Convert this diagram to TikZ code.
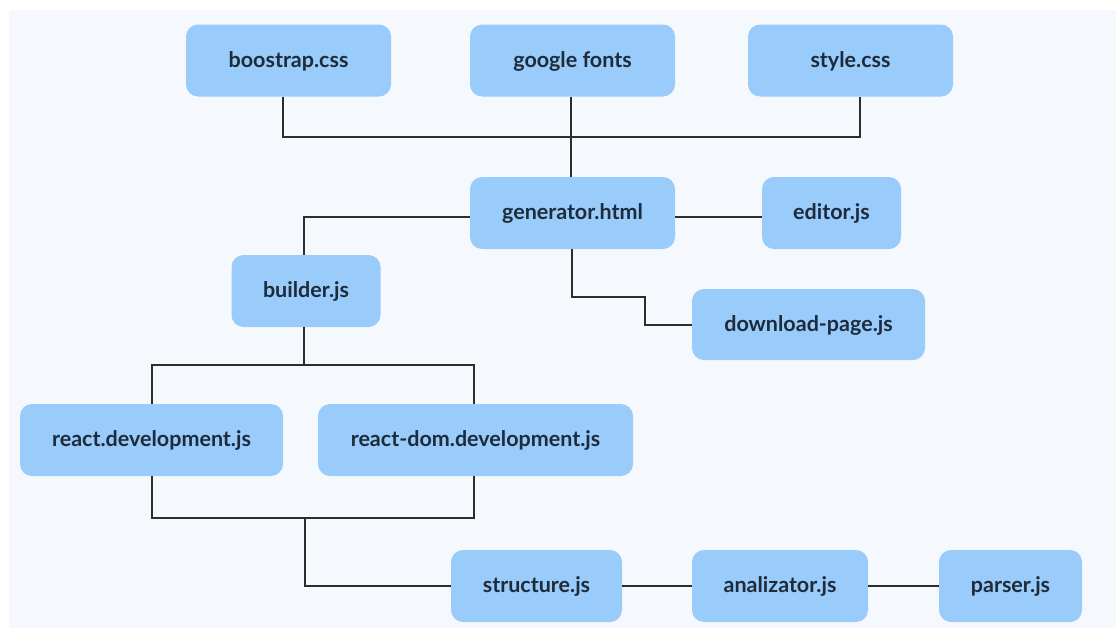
\documentclass[tikz,border=0pt]{standalone}
\usepackage{fontspec}
\setmainfont{Lato}
\definecolor{boxfill}{RGB}{153,204,250}
\definecolor{panel}{RGB}{245,249,253}
\definecolor{txt}{RGB}{30,43,58}
\definecolor{wire}{RGB}{45,45,45}
\begin{document}
\begin{tikzpicture}[x=1pt,y=1pt,
  filebox/.style={draw=none,fill=boxfill,rounded corners=12pt,inner sep=0pt,
    font=\fontsize{21.5}{24}\selectfont\bfseries,text=txt,minimum height=72pt,
    text height=15pt,text depth=2pt},
  wire/.style={draw=wire,line width=2pt}]
\useasboundingbox (0,0) rectangle (1116,-637);
\fill[white] (0,0) rectangle (1116,-637);
\fill[panel] (9,-10) rectangle (1116,-628);
% nodes
\node[filebox,minimum width=205pt] (boot) at (288.5,-60.5) {boostrap.css};
\node[filebox,minimum width=205pt] (gf) at (572.5,-60.5) {google fonts};
\node[filebox,minimum width=205pt] (style) at (850.5,-60.5) {style.css};
\node[filebox,minimum width=205pt] (gen) at (572.5,-213) {generator.html};
\node[filebox,minimum width=139pt] (editor) at (831.5,-213) {editor.js};
\node[filebox,minimum width=149pt] (builder) at (306,-291) {builder.js};
\node[filebox,minimum width=233pt,minimum height=71pt] (dl) at (808.5,-324.5) {download-page.js};
\node[filebox,minimum width=263pt] (react) at (151.5,-440) {react.development.js};
\node[filebox,minimum width=315pt] (rdom) at (475.5,-440) {react-dom.development.js};
\node[filebox,minimum width=171pt] (struct) at (536.5,-586) {structure.js};
\node[filebox,minimum width=176pt] (anal) at (780,-586) {analizator.js};
\node[filebox,minimum width=143pt] (parser) at (1010.5,-586) {parser.js};
% junctions
\coordinate (j1) at (571,-137);
\coordinate (k1) at (645,-297);
\coordinate (k2) at (304,-365);
\coordinate (k3) at (305,-518);
% connectors
\draw[wire] ([xshift=-5.5]boot.south) |- (j1) -| ([xshift=9.5]style.south);
\draw[wire] ([xshift=-1.5]gf.south) -- ([xshift=-1.5]gen.north);
\draw[wire] ([yshift=-4]gen.west) -| ([xshift=-2]builder.north);
\draw[wire] ([yshift=-4]gen.east) -- ([yshift=-4]editor.west);
\draw[wire] ([xshift=-0.5]gen.south) |- (k1) |- (dl.west);
\draw[wire] ([xshift=-2]builder.south) -- (k2);
\draw[wire] (react.north) |- (k2) -| ([xshift=-1.5]rdom.north);
\draw[wire] (react.south) |- (k3) -| ([xshift=-1.5]rdom.south);
\draw[wire] (k3) |- (struct.west);
\draw[wire] (struct.east) -- (anal.west);
\draw[wire] (anal.east) -- (parser.west);
\end{tikzpicture}
\end{document}
